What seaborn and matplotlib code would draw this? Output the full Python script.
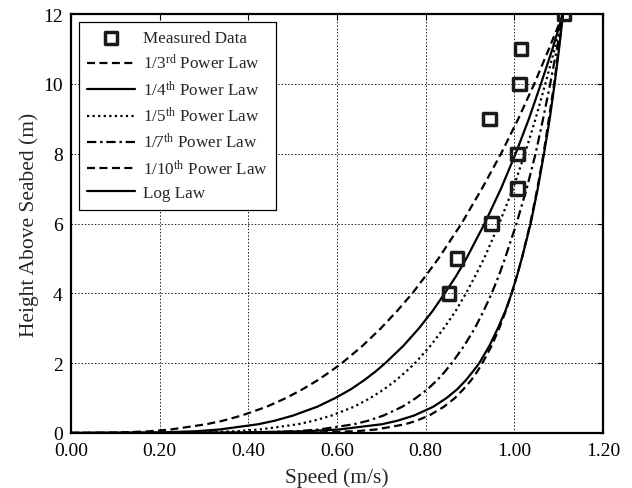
import numpy as np
import pandas as pd
import matplotlib
matplotlib.use("Agg")
import matplotlib.pyplot as plt
import seaborn as sns

# Measured current speeds at each height above the seabed
measured_height = [4, 5, 6, 7, 8, 9, 10, 11, 12]
measured_speed = [0.853, 0.871, 0.949, 1.007, 1.007, 0.944, 1.012, 1.015, 1.112]

# Heights at which the velocity profiles are tabulated (m)
profile_height = [0, 0.01, 0.05, 0.1, 0.25, 0.35, 0.5, 0.75, 1, 1.25, 1.5, 1.75, 2,
                  2.5, 3, 3.5, 4, 4.5, 5, 6, 7, 8, 9, 10, 11, 12]

# Profile speeds (m/s) for each law
speed_third = [0, 0.104, 0.179, 0.225, 0.305, 0.342, 0.385, 0.441, 0.485, 0.522, 0.555,
               0.584, 0.611, 0.658, 0.699, 0.736, 0.770, 0.800, 0.829, 0.881, 0.927,
               0.970, 1.009, 1.045, 1.078, 1.11]
speed_quarter = [0, 0.189, 0.282, 0.335, 0.422, 0.459, 0.501, 0.555, 0.596, 0.631, 0.660,
                 0.686, 0.709, 0.750, 0.785, 0.816, 0.843, 0.869, 0.892, 0.933, 0.970,
                 1.003, 1.033, 1.060, 1.086, 1.11]
speed_fifth = [0, 0.269, 0.371, 0.426, 0.512, 0.547, 0.588, 0.638, 0.675, 0.706, 0.732,
               0.755, 0.776, 0.811, 0.841, 0.868, 0.891, 0.912, 0.932, 0.966, 0.997,
               1.024, 1.048, 1.070, 1.091, 1.11]
speed_seventh = [0, 0.403, 0.507, 0.560, 0.638, 0.670, 0.705, 0.747, 0.778, 0.804, 0.825,
                 0.843, 0.859, 0.887, 0.911, 0.931, 0.949, 0.965, 0.979, 1.005, 1.028,
                 1.048, 1.065, 1.081, 1.096, 1.11]
speed_tenth = [0, 0.546, 0.642, 0.688, 0.754, 0.779, 0.808, 0.841, 0.866, 0.885, 0.902,
               0.916, 0.928, 0.949, 0.966, 0.981, 0.994, 1.006, 1.017, 1.036, 1.052,
               1.066, 1.078, 1.090, 1.100, 1.11]
speed_log = [0, 0.360, 0.531, 0.604, 0.701, 0.736, 0.774, 0.817, 0.847, 0.871, 0.890,
             0.906, 0.921, 0.944, 0.963, 0.980, 0.994, 1.006, 1.017, 1.037, 1.053,
             1.067, 1.080, 1.091, 1.101, 1.11]

law_labels = [r"1/3$^{\rm rd}$ Power Law", r"1/4$^{\rm th}$ Power Law",
              r"1/5$^{\rm th}$ Power Law", r"1/7$^{\rm th}$ Power Law",
              r"1/10$^{\rm th}$ Power Law", "Log Law"]
law_speeds = [speed_third, speed_quarter, speed_fifth, speed_seventh, speed_tenth, speed_log]
law_styles = [(0, (3.6, 2.0)), "-", (0, (1.0, 1.5)), (0, (4.2, 1.7, 1.1, 1.7)),
              (0, (3.6, 2.0)), "-"]

x_ticks = [0.0, 0.2, 0.4, 0.6, 0.8, 1.0, 1.2]
y_ticks = [0, 2, 4, 6, 8, 10, 12]

sns.set_theme(style="white")
plt.rcParams["font.family"] = ["Liberation Serif", "DejaVu Serif"]
plt.rcParams["mathtext.fontset"] = "custom"
plt.rcParams["mathtext.rm"] = "Liberation Serif"
plt.rcParams["mathtext.it"] = "Liberation Serif:italic"
plt.rcParams["mathtext.bf"] = "Liberation Serif:bold"

fig = plt.figure(figsize=(6.32, 4.89), dpi=100)
ax = fig.add_axes([0.1123, 0.1125, 0.8417, 0.8565])

sns.scatterplot(x=measured_speed, y=measured_height, ax=ax, marker="s", s=80,
                facecolor="none", edgecolor="#1a1a1a", linewidth=2.5,
                label="Measured Data", zorder=4)

for lab, spd, ls in zip(law_labels, law_speeds, law_styles):
    df = pd.DataFrame({"speed": spd, "height": profile_height})
    sns.lineplot(data=df, x="speed", y="height", sort=False, estimator=None, ax=ax,
                 color="black", linewidth=1.6, linestyle=ls, label=lab, zorder=3)

ax.set_xlim(0, 1.2)
ax.set_ylim(0, 12)
ax.set_xticks(x_ticks)
ax.set_xticklabels([f"{v:.2f}" for v in x_ticks])
ax.set_yticks(y_ticks)
ax.grid(True, color="black", linestyle=(0, (1.8, 2.2)), linewidth=0.6)
ax.tick_params(direction="in", length=4, width=0.8, top=True, right=True,
               labelsize=14, colors="black")
ax.tick_params(axis="x", pad=6.5)
ax.tick_params(axis="y", pad=6)
for sp in ax.spines.values():
    sp.set_color("black")
    sp.set_linewidth(1.6)

ax.set_xlabel("Speed (m/s)", fontsize=15.5, labelpad=6)
ax.set_ylabel("Height Above Seabed (m)", fontsize=15.5, labelpad=3)

leg = ax.legend(loc="upper left", fontsize=12.3, handlelength=2.8, labelspacing=0.42,
                borderaxespad=0.45, frameon=True, fancybox=False, borderpad=0.5,
                handletextpad=0.45)
leg.get_frame().set_edgecolor("black")
leg.get_frame().set_linewidth(0.9)
leg.get_frame().set_alpha(1)

fig.savefig("out.png", dpi=100)
